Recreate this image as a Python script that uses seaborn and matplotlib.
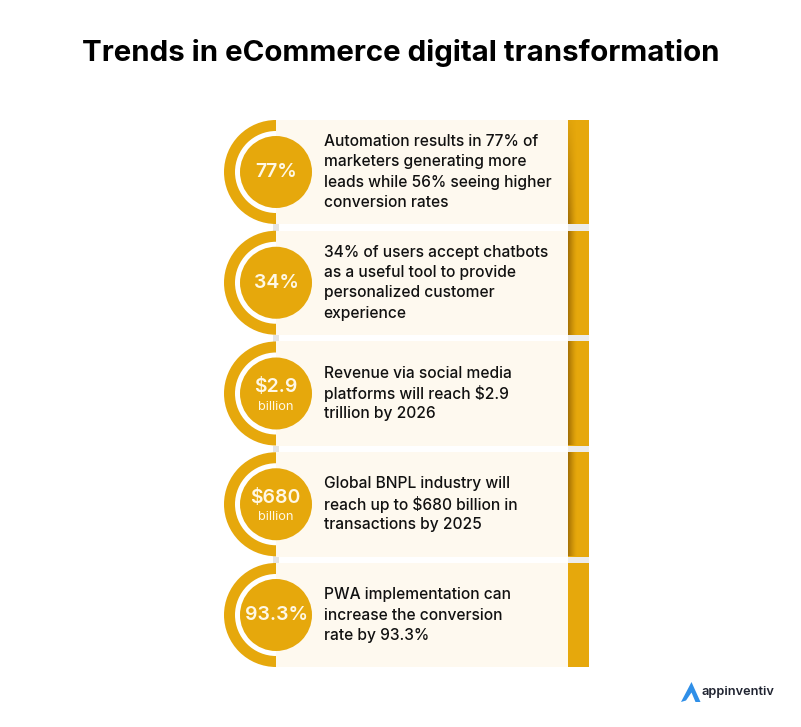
"""
Trends in eCommerce digital transformation: five stat rows with gold badges.
Axes run in reference pixels, so x and y below read straight off the picture.
"""

import numpy as np
import matplotlib.pyplot as plt
from matplotlib.patches import Circle, Wedge, Polygon, Rectangle
import seaborn as sns

sns.set_theme(style="white")
plt.rcParams["font.family"] = ["Inter", "Lato", "DejaVu Sans"]

TITLE = "Trends in eCommerce digital transformation"
BADGES = ["77%", "34%", "$2.9", "$680", "93.3%"]
BADGE_SUBS = ["", "", "billion", "billion", ""]
DESCRIPTIONS = [
    ["Automation results in 77% of", "marketers generating more",
     "leads while 56% seeing higher", "conversion rates"],
    ["34% of users accept chatbots", "as a useful tool to provide",
     "personalized customer", "experience"],
    ["Revenue via social media", "platforms will reach $2.9", "trillion by 2026"],
    ["Global BNPL industry will", "reach up to $680 billion in",
     "transactions by 2025"],
    ["PWA implementation can", "increase the conversion", "rate by 93.3%"],
]

GOLD = "#e6a80c"
CREAM = "#fef9ef"
BADGE_TEXT = "#fff8e6"
INK = "#111111"
W, H = 801, 727

# ── layout ───────────────────────────────────────────────────────────────────
row_y = 172 + 110.75 * np.arange(len(BADGES))
PANEL_L, PANEL_R, BAND_R = 276, 568, 589
ROW_H = 104.5

fig = plt.figure(figsize=(W / 100, H / 100), dpi=100, facecolor="white")
ax = fig.add_axes([0, 0, 1, 1])

# cream panels and gold end bands
sns.barplot(x=np.full(5, PANEL_R - PANEL_L), y=row_y, orient="y", native_scale=True,
            color=CREAM, saturation=1, width=ROW_H / 110.75, left=PANEL_L, linewidth=0, ax=ax, zorder=3)
sns.barplot(x=np.full(5, BAND_R - PANEL_R), y=row_y, orient="y", native_scale=True,
            color=GOLD, saturation=1, width=ROW_H / 110.75, left=PANEL_R, linewidth=0, ax=ax, zorder=3)

# grey shadow in the gaps, only next to the band and the badge
for y in row_y[:-1]:
    ax.add_patch(Rectangle((PANEL_R, y + 52), BAND_R - PANEL_R, 6.75, color="#ececec", lw=0, zorder=1))
    ax.add_patch(Rectangle((PANEL_L - 3, y + 52), 6, 6.75, color="#e4e4e4", lw=0, zorder=1))

# darker fold on the left of the gold bands, fading out along its length
def fold_image(top_alpha, bottom_alpha):
    across = np.linspace(0.75, 0, 32) ** 1.3
    along = np.linspace(top_alpha, bottom_alpha, 64)
    rgba = np.zeros((64, 32, 4))
    rgba[..., :3] = (0.50, 0.32, 0.0)
    rgba[..., 3] = np.outer(along, across)
    return rgba

fold_levels = [(0.1, 1.0), (1.0, 0.9), (0.9, 1.0), (1.0, 0.9)]
for y, (a, b) in zip(row_y, fold_levels):
    ax.imshow(fold_image(a, b), extent=(PANEL_R, PANEL_R + 9, y + 52, y - 52),
              aspect="auto", zorder=4)

ax.set_xlim(0, W)
ax.set_ylim(H, 0)
ax.axis("off")

# badges
for y, badge, sub, lines in zip(row_y, BADGES, BADGE_SUBS, DESCRIPTIONS):
    ax.add_patch(Wedge((PANEL_L, y), 52, 90, 270, color=GOLD, lw=0, zorder=2))
    ax.add_patch(Wedge((PANEL_L, y), 41, 90, 270, color="white", lw=0, zorder=2.5))
    ax.add_patch(Circle((PANEL_L, y), 36, color=GOLD, lw=0, zorder=5))
    if sub:
        ax.text(PANEL_L - 0.5, y - 6, badge, color=BADGE_TEXT, fontsize=14, fontweight="semibold",
                ha="center", va="center", zorder=6)
        ax.text(PANEL_L - 0.5, y + 13, sub, color=BADGE_TEXT, fontsize=9.2,
                ha="center", va="center", zorder=6)
    else:
        ax.text(PANEL_L, y, badge, color=BADGE_TEXT, fontsize=14, fontweight="semibold",
                ha="center", va="center", zorder=6)
    top = y - 0.5 * 20.3 * (len(lines) - 1)
    for j, line in enumerate(lines):
        ax.text(323.5, top + j * 20.3, line, color=INK, fontsize=11.2, fontweight="medium",
                ha="left", va="center", zorder=6)

ax.text(401, 53, TITLE, color="black", fontsize=21.2, fontweight="bold",
        ha="center", va="center")

# logo
ax.add_patch(Polygon([(681, 702), (691.5, 682), (700.5, 702), (695.5, 702), (691.5, 692.5), (686, 700.5)],
                     closed=True, color="#2f8fe8", lw=0))
ax.text(702, 691.5, "appinventiv", color="#1f2330", fontsize=9.2, fontweight="semibold",
        ha="left", va="center")

fig.savefig("out.png", dpi=100, facecolor="white")
